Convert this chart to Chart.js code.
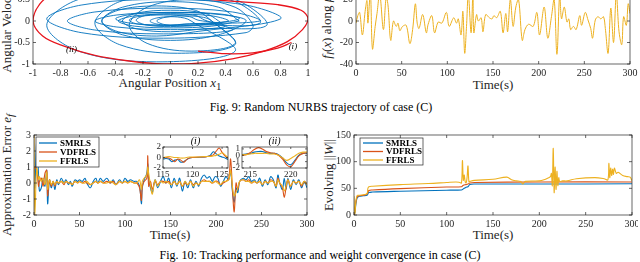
<!DOCTYPE html>
<html>
<head>
<meta charset="utf-8">
<script src="https://cdn.jsdelivr.net/npm/chart.js@4.4.1/dist/chart.umd.min.js"></script>
<style>
  html, body { margin: 0; padding: 0; background: #fff; }
  #page { position: relative; width: 640px; height: 262px; overflow: hidden;
          font-family: "Liberation Serif", "Times New Roman", serif; color: #262626; }
  #page canvas { position: absolute; }
  .lbl { position: absolute; white-space: nowrap; transform: translate(-50%, -50%);
         font-size: 13px; line-height: 1; }
  .rot { transform: translate(-50%, -50%) rotate(-90deg); }
  .cap { position: absolute; white-space: nowrap; transform: translate(-50%, -50%);
         font-size: 12px; color: #000; line-height: 1; }
  .ttl { position: absolute; white-space: nowrap; transform: translate(-50%, -50%);
         font-size: 10px; font-style: italic; line-height: 1; color: #000; }
</style>
</head>
<body>
<div id="page">
  <div class="lbl rot" style="left:8px; top:21px;">Angular Velocity <i>x</i><sub>2</sub></div>
  <div class="lbl" style="left:170px; top:84px;">Angular Position <i>x</i><sub>1</sub></div>
  <div class="lbl rot" style="left:328px; top:21px;"><i>f<sub>l</sub></i>(<i>x</i>) along <i>μ</i>(<i>t</i>)</div>
  <div class="lbl" style="left:493px; top:84px;">Time(s)</div>
  <div class="cap" style="left:321px; top:107px;">Fig. 9: Random NURBS trajectory of case (C)</div>

  <div class="lbl rot" style="left:8px; top:175px;">Approximation Error <i>e<sub>f</sub></i></div>
  <div class="lbl" style="left:170px; top:234px;">Time(s)</div>
  <div class="lbl rot" style="left:328px; top:175px;">Evolving ||<i>W</i>||</div>
  <div class="lbl" style="left:493px; top:234px;">Time(s)</div>
  <div class="cap" style="left:320px; top:255px;">Fig. 10: Tracking performance and weight convergence in case (C)</div>
</div>
<script>
// ---- data ----

// Fig. 9 left: phase portrait (blue tangle + red outer path)
const phaseBlueX = [
  0.5, 0.35, 0, -0.35, -0.5, -0.35, 0, 0.35,
  0.55, 0.39, 0, -0.39, -0.55, -0.39, 0, 0.39,
  0.35, 0.25, 0, -0.25, -0.35, -0.25, 0, 0.25,
  0.7, 0.47, -0.1, -0.67, -0.9, -0.67, -0.1, 0.47,
  0.15, 0.1, 0, -0.1, -0.15, -0.1, 0, 0.1,
  0.65, 0.45, -0.05, -0.55, -0.75, -0.55, -0.05, 0.45,
  0.25, 0.18, 0, -0.18, -0.25, -0.18, 0, 0.18,
  0.65, 0.47, 0.05, -0.37, -0.55, -0.37, 0.05, 0.47,
  0.3, 0.18, -0.1, -0.38, -0.5, -0.38, -0.1, 0.18,
  0.8, 0.55, -0.05, -0.65, -0.9, -0.65, -0.05, 0.55,
  0.6, 0.47, 0.15, -0.17, -0.3, -0.17, 0.15, 0.47,
  0.3, 0.24, 0.1, -0.04, -0.1, -0.04, 0.1, 0.24,
  0.5, 0.37, 0.05, -0.27, -0.4, -0.27, 0.05, 0.37,
  0.2, 0.14, -0.05, -0.24, -0.3, -0.24, -0.05, 0.14,
  0.42, 0.3, 0.02, -0.26, -0.38, -0.26, 0.02, 0.3,
  0.5
];
const phaseBlueY = [
  0, 0.32, 0.45, 0.32, 0, -0.32, -0.45, -0.32,
  0, 0.14, 0.2, 0.14, 0, -0.14, -0.2, -0.14,
  0, 0.18, 0.25, 0.18, 0, -0.18, -0.25, -0.18,
  -0.1, 0.5, 0.75, 0.5, -0.1, -0.7, -0.95, -0.7,
  0, 0.07, 0.1, 0.07, 0, -0.07, -0.1, -0.07,
  0, 0.21, 0.3, 0.21, 0, -0.21, -0.3, -0.21,
  0.02, 0.13, 0.17, 0.13, 0.02, -0.09, -0.13, -0.09,
  -0.05, 0.45, 0.65, 0.45, -0.05, -0.55, -0.75, -0.55,
  0, 0.25, 0.35, 0.25, 0, -0.25, -0.35, -0.25,
  0.05, 0.37, 0.5, 0.37, 0.05, -0.27, -0.4, -0.27,
  -0.1, 0.32, 0.5, 0.32, -0.1, -0.52, -0.7, -0.52,
  0, 0.085, 0.12, 0.085, 0, -0.085, -0.12, -0.085,
  0.05, 0.16, 0.2, 0.16, 0.05, -0.06, -0.1, -0.06,
  0.02, 0.1, 0.14, 0.1, 0.02, -0.07, -0.1, -0.07,
  0, 0.12, 0.16, 0.12, 0, -0.12, -0.16, -0.12,
  0
];
const phaseRedX = [-0.82, -0.95, -1.0, -0.93, -0.78, -0.55, -0.3, -0.05, 0.2, 0.45,
                   0.68, 0.85, 0.96, 1.0, 0.95, 0.78, 0.5, 0.25, 0.05];
const phaseRedY = [0.75, 0.4, 0.0, -0.35, -0.58, -0.8, -0.93, -1.0, -0.98, -0.88,
                   -0.7, -0.48, -0.2, 0.05, 0.25, 0.38, 0.45, 0.52, 0.7];
const phaseRed2X = [0.2, 0.4, 0.6, 0.78, 0.88];
const phaseRed2Y = [-0.7, -0.76, -0.74, -0.63, -0.5];
const phaseNoteText = ['(ii)', '(i)'];
const phaseNoteX = [-0.72, 0.89];
const phaseNoteY = [-0.67, -0.6];

// Fig. 9 right: f_l(x) along the trajectory
const fTime = [
  0, 2, 4, 7, 10, 12, 13, 15, 16, 18,
  21, 23, 26, 30, 33, 35, 38, 41, 44, 46,
  48, 51, 55, 59, 62, 65, 67, 69, 73, 77,
  79, 83, 86, 90, 94, 99, 102, 107, 110, 112,
  115, 117, 119, 121, 123, 126, 128, 129, 132, 134,
  137, 139, 142, 146, 149, 151, 154, 158, 161, 164,
  166, 169, 172, 175, 178, 182, 185, 189, 194, 198,
  201, 206, 210, 214, 217, 220, 223, 225, 228, 231,
  233, 235, 238, 241, 245, 247, 251, 254, 257, 259,
  262, 265, 268, 271, 273, 276, 279, 282, 285, 288,
  291, 293, 296, 298, 300
];
const fValue = [
  -2, 5, 8, -13, 9, 19, -2, 20, 25, -26,
  -5, 7, 25, -8, 22, 15, -18, 0, -5, -2,
  -9, -5, -4, -21, -8, 16, -2, -7, 6, -11,
  -3, 5, -11, -1, -2, 8, -5, 3, -2, 2,
  -13, 9, -30, -5, 25, -11, 25, -11, 6, 0,
  3, -10, 6, 3, 2, 5, 3, 9, -11, 7,
  -10, 20, -5, 13, 20, -18, -8, -3, -5, 8,
  -13, 13, -16, 4, 20, -31, 25, 2, 13, -1,
  2, -8, -5, -8, 5, -4, 8, 1, -7, -16,
  1, 4, 2, 4, -7, -30, 12, -20, 25, -10,
  -22, 4, -4, 16, 7
];

// Fig. 10 left: approximation error
const seriesNames = ['SMRLS', 'VDFRLS', 'FFRLS'];
const errTime = [
  0, 1, 3, 5, 6, 8, 10, 12, 14, 15,
  17, 19, 21, 23, 25, 27, 30, 33, 35, 38,
  40, 42, 45, 48, 50, 53, 56, 58, 62, 65,
  68, 70, 73, 76, 80, 84, 87, 90, 94, 97,
  100, 103, 106, 110, 113, 116, 118, 119, 121, 124,
  125, 126, 128, 130, 133, 136, 139, 142, 145, 148,
  151, 154, 157, 160, 163, 166, 169, 172, 175, 178,
  181, 184, 187, 190, 193, 196, 199, 202, 205, 208,
  211, 214, 216, 218, 220, 222, 224, 226, 230, 233,
  236, 239, 242, 245, 248, 251, 254, 257, 260, 263,
  266, 268, 270, 273, 275, 277, 279, 282, 285, 288,
  291, 294, 297, 300
];
const errSMRLS = [
  0, -0.3, 2.6, 0.5, -0.5, -0.3, 0.3, -0.2, 0.8, -1.3,
  0.2, -0.3, 0.1, -0.4, 0.2, -0.1, 0.3, 0, 0.2, -0.1,
  0.1, -0.2, 0.2, 0.1, 0.2, 0.1, 0.3, 0, -0.3, 0.1,
  0.3, 0, 0.3, 0.1, 0.3, 0, 0.2, -0.1, 0.2, 0,
  0.3, 0.1, 0.2, 0.1, 0.1, -0.2, -1.3, -0.3, 0.2, 0.6,
  1.2, 0.3, -0.3, -0.6, 0.2, -0.3, 0.1, 0.4, 0, 0.3,
  -0.3, 0.3, -0.2, 0.3, -0.5, 0.1, -0.3, 0.2, -0.3, 0.1,
  -0.2, 0.3, 0.5, 0.3, 0.4, 0.1, 0.4, 0.3, -0.2, 0.1,
  0.4, 0.2, 0.8, -0.5, -1.2, -0.3, -0.6, 0.1, 0.3, 0.2,
  0.4, 0.1, 0.2, 0, 0.3, -0.2, 0.2, -0.1, 0.4, 0.2,
  -0.3, 0.5, 0, -0.4, 0.3, -0.4, 0.3, -0.4, 0.2, -0.1,
  0.2, -0.3, 0.1, -0.3
];
const errVDFRLS = [
  0.2, 1.0, 0.8, -0.2, 0.1, 0.3, -0.2, 0.6, 0.8, -0.8,
  0.2, -0.2, 0.1, -0.2, 0.1, 0, 0.1, -0.1, 0.1, 0,
  0, -0.1, 0.1, 0, 0.1, 0, 0.1, 0, -0.1, 0,
  0.1, 0, 0.1, 0, 0.1, 0, 0.1, -0.1, 0.1, 0,
  0.1, 0, 0.1, 0, 0, -0.3, -1.1, -0.2, 0.1, 0.3,
  1.7, -0.2, 0.1, -0.4, 0.1, -0.1, 0.1, 0.1, 0, 0.1,
  -0.1, 0.1, -0.1, 0.1, -0.2, 0, -0.1, 0.1, -0.1, 0,
  -0.1, 0.1, 0.2, 0.1, 0.1, 0, 0.1, 0.1, -0.1, 0,
  0.1, 0.3, 1.5, -0.3, -1.8, 0, -0.4, 0.1, 0.2, 0.1,
  0.2, 0, 0.1, 0, 0.1, -0.1, 0.1, 0, 0.2, 0.1,
  -0.2, 0.3, 0, -0.3, -0.9, -0.3, 0.2, -0.2, 0.1, 0,
  0.1, -0.2, 0.1, -0.1
];
const errFFRLS = [
  3, -2, 0.9, 0.2, 0.4, 0.1, 0.3, -0.1, 0.7, -0.4,
  0.2, -0.1, 0.1, -0.1, 0.1, 0, 0.1, 0, 0.1, 0,
  0, -0.1, 0.1, 0, 0.1, 0, 0, 0.1, -0.1, 0,
  0.1, 0, 0.1, 0, 0, 0.1, 0, -0.1, 0.1, 0,
  0.1, 0, 0.1, 0, 0, 0.2, -0.4, 0.1, 0.3, 0.5,
  1.0, 0.6, -0.1, -0.7, 0.2, -0.2, 0.1, 0, 0.1, 0,
  -0.1, 0.1, -0.1, 0.1, -0.2, 0.1, -0.1, 0.1, -0.2, 0,
  -0.1, 0.1, 0.1, 0.1, 0.1, 0, 0.1, 0, -0.1, 0.1,
  0.1, 0.2, 0.8, -0.2, -0.8, -0.6, -0.3, 0.1, 0.2, 0.1,
  0.1, 0, 0.1, 0, 0.1, -0.1, 0.1, 0, 0.1, 0.1,
  -0.2, 0.2, 0, -0.2, -0.5, -0.2, 0.2, -0.2, 0.1, 0,
  0.1, -0.1, 0.1, -0.1
];

// zoom insets (i) and (ii)
const insetTitles = ['(i)', '(ii)'];
const insetTimeA = [115, 115.5, 116, 116.5, 117, 117.5, 118, 118.5, 119, 119.5,
                    120, 121, 122, 122.5, 123, 123.5, 124, 124.5, 125, 125.5, 126];
const insetA_SMRLS  = [-0.3, -0.2, -0.3, -0.8, -0.5, -0.4, -0.9, -0.8, -0.4, -0.1,
                       0, 0, 0.1, 0.2, 0.4, 1.1, 0.7, 0.3, 0.1, -0.1, -0.4];
const insetA_VDFRLS = [-0.1, 0, -0.1, -0.4, -0.8, -0.3, -0.5, -0.9, -0.4, -0.1,
                       0, 0.1, 0.1, 0.2, 0.3, 0.5, 1.2, 1.8, 1.0, 0.3, -0.2];
const insetA_FFRLS  = [0, 0.1, 0.2, 0.1, 0, 0, -0.1, -0.1, 0, 0.1,
                       0.1, 0.1, 0.2, 0.2, 0.2, 0.3, 0.4, 0.6, 0.9, 0.5, 0];
const insetTimeB = [214, 214.5, 215, 215.5, 216, 216.5, 217, 217.5, 218, 218.5,
                    219, 219.5, 220, 220.5, 221, 221.5, 222];
const insetB_SMRLS  = [0.1, 0.2, 0.3, 0.5, 0.6, 0.6, 0.4, 0.3, 0.3, 0.1,
                       -0.4, -1.2, -1.5, -0.8, 0, 0.3, 0.3];
const insetB_VDFRLS = [0, 0.1, 0.4, 0.9, 1.2, 1.0, 0.6, 0.4, 0.3, 0,
                       -0.6, -1.5, -1.8, -1.0, -0.1, 0.3, 0.4];
const insetB_FFRLS  = [0.1, 0.1, 0.2, 0.3, 0.3, 0.3, 0.3, 0.2, 0.2, 0,
                       -0.4, -0.8, -0.5, -0.1, 0.3, 0.5, 0.5];

// Fig. 10 right: ||W||
const wTimeSM = [0, 1, 2, 3, 4, 6, 10, 14, 16, 20, 50, 100, 116, 118, 121, 123, 125, 130, 200, 300];
const wSMRLS  = [0, 5, 20, 30, 33, 35, 36, 37, 42, 43, 44.5, 46.5, 47, 49, 52, 53, 57, 58, 58, 58.5];
const wTimeVD = [0, 1, 2, 3, 4, 6, 10, 14, 16, 20, 50, 100, 116, 118, 121, 123, 125, 130, 200, 300];
const wVDFRLS = [0, 8, 25, 32, 35, 36, 37, 39, 46, 47, 49.5, 52.5, 53, 56, 57, 58, 60, 61, 62, 62];
const wTimeFF = [
  0, 0.5, 1, 2, 3, 4, 6, 10, 14, 15,
  16, 20, 50, 80, 100, 110, 114, 116, 117, 118,
  119, 120, 121, 122, 123, 124, 125, 130, 150, 165,
  170, 175, 180, 182, 185, 200, 205, 210, 212, 213,
  214, 215, 216, 217, 218, 219, 220, 221, 222, 225,
  230, 240, 260, 270, 274, 275, 276, 277, 278, 279,
  280, 281, 283, 285, 290, 295, 298, 300
];
const wFFRLS = [
  35, 5, 2, 25, 35, 37, 37, 38, 40, 50,
  53, 54, 57, 59, 61, 62, 61, 60, 102, 65,
  75, 62, 60, 70, 92, 62, 63, 65, 67, 71,
  66, 64, 63, 58, 63, 64, 66, 70, 72, 78,
  55, 125, 42, 90, 48, 82, 55, 70, 63, 64,
  64, 68, 70, 68, 66, 97, 70, 88, 74, 86,
  76, 88, 78, 80, 74, 72, 71, 64
];

// ---- drawing ----
const BLUE = '#0072BD', RED = '#D95319', YELLOW = '#EDB120', PURE_RED = '#E8141C';
const INK = '#262626';
const page = document.getElementById('page');

function pts(xs, ys) {
  return xs.map((x, i) => ({ x: x, y: ys[i] }));
}

function line(label, xs, ys, color, width, order) {
  return {
    label: label, data: pts(xs, ys), showLine: true, borderColor: color,
    borderWidth: width, pointRadius: 0, tension: 0.35, fill: false, order: order
  };
}

// box, inward ticks, legend and text notes, MATLAB style
const framePlugin = {
  id: 'frame',
  beforeDatasetsDraw(chart, args, o) {
    if (!o.white) return;
    const a = chart.chartArea, ctx = chart.ctx;
    ctx.save();
    ctx.fillStyle = '#fff';
    ctx.fillRect(a.left, a.top, a.right - a.left, a.bottom - a.top);
    ctx.restore();
  },
  afterDatasetsDraw(chart, args, o) {
    const { ctx, chartArea: a, scales } = chart;
    ctx.save();
    ctx.strokeStyle = INK;
    ctx.lineWidth = 0.7;
    ctx.strokeRect(a.left, a.top, a.right - a.left, a.bottom - a.top);
    const tl = o.tick || 3;
    ctx.beginPath();
    scales.x.ticks.forEach((t, i) => {
      const px = scales.x.getPixelForTick(i);
      ctx.moveTo(px, a.bottom); ctx.lineTo(px, a.bottom - tl);
      ctx.moveTo(px, a.top); ctx.lineTo(px, a.top + tl);
    });
    scales.y.ticks.forEach((t, i) => {
      const py = scales.y.getPixelForTick(i);
      ctx.moveTo(a.left, py); ctx.lineTo(a.left + tl, py);
      ctx.moveTo(a.right, py); ctx.lineTo(a.right - tl, py);
    });
    ctx.stroke();

    if (o.title) {
      ctx.fillStyle = '#000';
      ctx.font = 'italic 10px "Liberation Serif"';
      ctx.textAlign = 'center';
      ctx.textBaseline = 'bottom';
      ctx.fillText(o.title, (a.left + a.right) / 2, a.top - 1);
    }

    if (o.notes) {
      ctx.fillStyle = '#000';
      ctx.font = 'italic 9px "Liberation Serif"';
      ctx.textAlign = 'center';
      ctx.textBaseline = 'middle';
      o.notes.text.forEach((s, i) => {
        ctx.fillText(s, scales.x.getPixelForValue(o.notes.x[i]), scales.y.getPixelForValue(o.notes.y[i]));
      });
    }

    if (o.legend) {
      const L = o.legend;
      const x0 = a.left + L.dx, y0 = a.top + L.dy;
      ctx.fillStyle = '#fff';
      ctx.fillRect(x0, y0, L.w, L.h);
      ctx.strokeStyle = INK;
      ctx.lineWidth = 0.7;
      ctx.strokeRect(x0, y0, L.w, L.h);
      ctx.font = 'bold 9px "Liberation Serif"';
      ctx.textBaseline = 'middle';
      ctx.textAlign = 'left';
      const sets = chart.data.datasets;
      sets.forEach((d, i) => {
        const yy = y0 + L.row0 + i * L.step;
        ctx.strokeStyle = d.borderColor;
        ctx.lineWidth = 1.3;
        ctx.beginPath();
        ctx.moveTo(x0 + 3, yy); ctx.lineTo(x0 + 3 + L.seg, yy);
        ctx.stroke();
        ctx.fillStyle = '#000';
        ctx.fillText(d.label, x0 + 6 + L.seg, yy + 0.5);
      });
    }
    ctx.restore();
  }
};

// MATLAB style labels: 1 not 1.0, 0.5 not .5
function tickText(v) {
  return String(Math.round(v * 100) / 100);
}

function axis(min, max, step, size, horizontal, fontSize, pad) {
  return {
    type: 'linear', min: min, max: max,
    grid: { display: false, drawTicks: false },
    border: { display: false },
    ticks: {
      stepSize: step, includeBounds: false, autoSkip: false, maxRotation: 0,
      color: INK, padding: pad, font: { family: 'Liberation Serif', size: fontSize },
      callback: tickText
    },
    afterFit(s) {
      if (horizontal) s.height = size; else s.width = size;
      s.paddingLeft = 0; s.paddingRight = 0; s.paddingTop = 0; s.paddingBottom = 0;
    }
  };
}

// area: plot rectangle on the page, m: margins of the canvas around it
function plot(area, m, datasets, xa, ya, frame) {
  const c = document.createElement('canvas');
  c.width = m.l + (area.r - area.l) + m.r;
  c.height = m.t + (area.b - area.t) + m.b;
  c.style.left = (area.l - m.l) + 'px';
  c.style.top = (area.t - m.t) + 'px';
  page.appendChild(c);
  const fs = frame.font || 10;
  return new Chart(c, {
    type: 'scatter',
    data: { datasets: datasets },
    options: {
      responsive: false, animation: false, events: [],
      layout: { padding: { top: m.t, right: m.r, left: 0, bottom: 0 } },
      plugins: { legend: { display: false }, tooltip: { enabled: false }, frame: frame },
      scales: {
        x: axis(xa[0], xa[1], xa[2], m.b, true, fs, frame.xpad || 3),
        y: axis(ya[0], ya[1], ya[2], m.l, false, fs, frame.ypad || 3)
      }
    },
    plugins: [framePlugin]
  });
}

// Fig. 9 left
plot({ l: 33, r: 308, t: -22, b: 64 }, { l: 33, t: 6, r: 8, b: 14 }, [
  line('red', phaseRedX, phaseRedY, PURE_RED, 1.3, 1),
  line('red2', phaseRed2X, phaseRed2Y, PURE_RED, 1.3, 1),
  line('blue', phaseBlueX, phaseBlueY, BLUE, 0.9, 2)
], [-1, 1, 0.2], [-1, 1, 0.5], { notes: { text: phaseNoteText, x: phaseNoteX, y: phaseNoteY } });

// Fig. 9 right
plot({ l: 356, r: 630, t: -22, b: 64 }, { l: 30, t: 6, r: 8, b: 14 }, [
  line('f', fTime, fValue, YELLOW, 1, 1)
], [0, 300, 50], [-40, 40, 20], {});

// Fig. 10 left
plot({ l: 34, r: 307, t: 135, b: 215 }, { l: 30, t: 6, r: 8, b: 14 }, [
  line(seriesNames[0], errTime, errSMRLS, BLUE, 1.1, 3),
  line(seriesNames[1], errTime, errVDFRLS, RED, 1.1, 2),
  line(seriesNames[2], errTime, errFFRLS, YELLOW, 1.1, 1)
], [0, 300, 50], [-2, 3, 1], { legend: { dx: 2, dy: 2, w: 63, h: 30, row0: 6, step: 9, seg: 18 } });

// insets
plot({ l: 163, r: 228, t: 147, b: 168 }, { l: 14, t: 12, r: 6, b: 11 }, [
  line(seriesNames[0], insetTimeA, insetA_SMRLS, BLUE, 1.1, 3),
  line(seriesNames[1], insetTimeA, insetA_VDFRLS, RED, 1.1, 2),
  line(seriesNames[2], insetTimeA, insetA_FFRLS, YELLOW, 1.1, 1)
], [115, 126, 5], [-2, 2, 2], { white: true, font: 9, tick: 2, xpad: 1, ypad: 2, title: insetTitles[0] });

plot({ l: 242, r: 307, t: 147, b: 168 }, { l: 14, t: 12, r: 6, b: 11 }, [
  line(seriesNames[0], insetTimeB, insetB_SMRLS, BLUE, 1.1, 3),
  line(seriesNames[1], insetTimeB, insetB_VDFRLS, RED, 1.1, 2),
  line(seriesNames[2], insetTimeB, insetB_FFRLS, YELLOW, 1.1, 1)
], [214, 222, 5], [-2, 1.3, 1], { white: true, font: 9, tick: 2, xpad: 1, ypad: 2, title: insetTitles[1] });

// Fig. 10 right
plot({ l: 354, r: 632, t: 135, b: 215 }, { l: 30, t: 6, r: 6, b: 14 }, [
  line(seriesNames[0], wTimeSM, wSMRLS, BLUE, 1.1, 3),
  line(seriesNames[1], wTimeVD, wVDFRLS, RED, 1.1, 2),
  line(seriesNames[2], wTimeFF, wFFRLS, YELLOW, 1.1, 1)
], [0, 300, 50], [0, 150, 50], { legend: { dx: 6, dy: 3, w: 63, h: 27, row0: 5, step: 8.5, seg: 20 } });
</script>
</body>
</html>
